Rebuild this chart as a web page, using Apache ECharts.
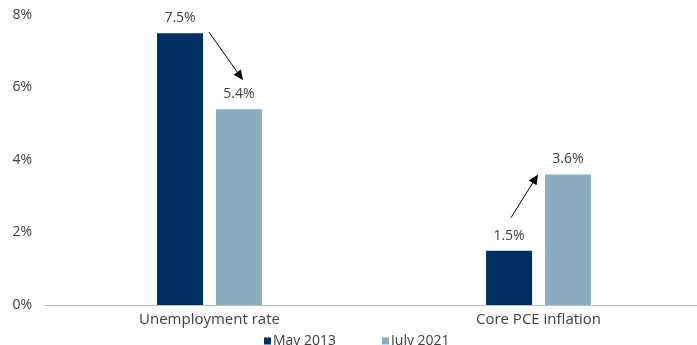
<!DOCTYPE html>
<html><head><meta charset="utf-8">
<script src="https://cdn.jsdelivr.net/npm/echarts@6/dist/echarts.min.js"></script>
<style>html,body{margin:0;padding:0;background:#fff;overflow:hidden}#c{width:703px;height:345px}</style>
</head><body><div id="c"></div>
<script>
const categories = ['Unemployment rate', 'Core PCE inflation'];
const may2013 = [7.5, 1.5];
const july2021 = [5.4, 3.6];
const yTicks = [0, 2, 4, 6, 8];

const chart = echarts.init(document.getElementById('c'), null, {renderer: 'canvas'});
const font = 'Open Sans';
const txt = '#404040';
const option = {
  animation: false,
  textStyle: {fontFamily: font},
  grid: {left: 45, right: 0, top: 15, bottom: 40, containLabel: false},
  legend: {
    bottom: -8, left: 259, itemWidth: 7, itemHeight: 7, itemGap: 46,
    icon: 'rect',
    textStyle: {color: txt, fontSize: 14, fontFamily: font, padding: [0, 0, 0, -3]},
    data: ['May 2013', 'July 2021']
  },
  xAxis: {
    type: 'category', data: categories,
    axisLine: {lineStyle: {color: '#bfbfbf'}},
    axisTick: {show: false},
    axisLabel: {color: txt, fontSize: 15, margin: 7}
  },
  yAxis: {
    type: 'value', min: 0, max: 8, interval: 2,
    axisLine: {show: false}, axisTick: {show: false}, splitLine: {show: false},
    axisLabel: {color: txt, fontSize: 14, margin: 13, formatter: v => yTicks.includes(v) ? v + '%' : ''}
  },
  series: [
    {name: 'May 2013', type: 'bar', data: may2013, barWidth: 46, barGap: '28%',
     itemStyle: {color: '#003063'},
     label: {show: true, position: 'top', distance: 8, color: txt, fontSize: 14, formatter: p => p.value.toFixed(1) + '%'}},
    {name: 'July 2021', type: 'bar', data: july2021, barWidth: 46,
     itemStyle: {color: '#8aaec0'},
     label: {show: true, position: 'top', distance: 8, color: txt, fontSize: 14, formatter: p => p.value.toFixed(1) + '%'}}
  ]
};
chart.setOption(option);

function px(ci, v) { return chart.convertToPixel({xAxisIndex: 0, yAxisIndex: 0}, [ci, v]); }
const a1s = px(0, may2013[0]), a1e = px(0, july2021[0]);
const a2s = px(1, may2013[1]), a2e = px(1, july2021[1]);
const arrows = [
  [[a1s[0] - 0.5, a1s[1] - 1], [a1e[0] + 33.5, a1e[1] - 29]],
  [[a2s[0] - 27.5, a2s[1] - 33], [a2e[0] - 0.5, a2e[1]]]
];
const els = [];
arrows.forEach(([s, e]) => {
  const ang = Math.atan2(e[1] - s[1], e[0] - s[0]);
  const L = 10, W = 4.5;
  const bx = e[0] - L * Math.cos(ang), by = e[1] - L * Math.sin(ang);
  const nx = -Math.sin(ang), ny = Math.cos(ang);
  els.push({type: 'line', shape: {x1: s[0], y1: s[1], x2: bx, y2: by}, style: {stroke: '#000', lineWidth: 1}, z: 10});
  els.push({type: 'polygon', shape: {points: [[e[0], e[1]], [bx + nx * W, by + ny * W], [bx - nx * W, by - ny * W]]}, style: {fill: '#000'}, z: 10});
});
chart.setOption({graphic: {elements: els}});
</script></body></html>
